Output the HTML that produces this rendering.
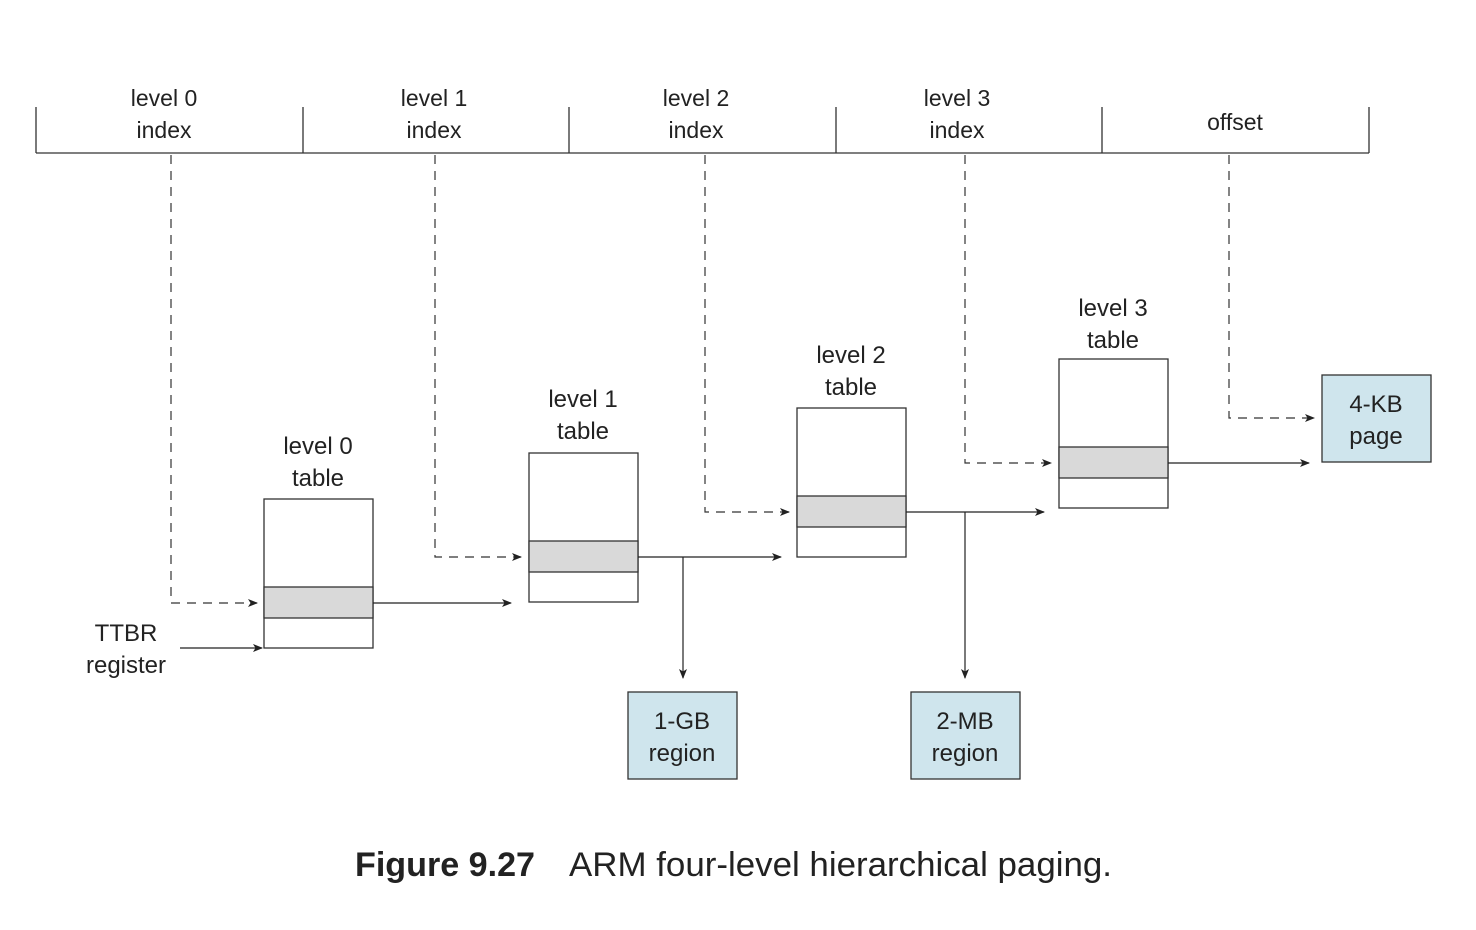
<!DOCTYPE html>
<html><head><meta charset="utf-8"><style>html,body{margin:0;padding:0;background:#fff}svg{display:block}</style></head>
<body>
<svg width="1476" height="930" viewBox="0 0 1476 930" xmlns="http://www.w3.org/2000/svg" font-family="Liberation Sans, sans-serif" fill="#222">
<defs>
<marker id="a" markerWidth="10" markerHeight="8" refX="9" refY="4" orient="auto" markerUnits="userSpaceOnUse">
<path d="M0,0 L10,4 L0,8 L2.5,4 z" fill="#222"/></marker>
</defs>
<!-- top bar -->
<g stroke="#333" stroke-width="1.3" fill="none">
<line x1="36" y1="153" x2="1369" y2="153"/>
<line x1="36" y1="107" x2="36" y2="153"/>
<line x1="303" y1="107" x2="303" y2="153"/>
<line x1="569" y1="107" x2="569" y2="153"/>
<line x1="836" y1="107" x2="836" y2="153"/>
<line x1="1102" y1="107" x2="1102" y2="153"/>
<line x1="1369" y1="107" x2="1369" y2="153"/>
</g>
<g font-size="23" text-anchor="middle">
<text x="164" y="106">level 0</text><text x="164" y="138">index</text>
<text x="434" y="106">level 1</text><text x="434" y="138">index</text>
<text x="696" y="106">level 2</text><text x="696" y="138">index</text>
<text x="957" y="106">level 3</text><text x="957" y="138">index</text>
<text x="1235" y="130">offset</text>
</g>
<!-- dashed -->
<g stroke="#333" stroke-width="1.2" fill="none" stroke-dasharray="9,7" marker-end="url(#a)">
<polyline points="171,155 171,603 257,603"/>
<polyline points="435,155 435,557 521,557"/>
<polyline points="705,155 705,512 789,512"/>
<polyline points="965,155 965,463 1051,463"/>
<polyline points="1229,155 1229,418 1314,418"/>
</g>
<!-- tables -->
<g stroke="#333" stroke-width="1.3">
<rect x="264" y="499" width="109" height="149" fill="#fff"/><rect x="264" y="587" width="109" height="31" fill="#d9d9d9"/>
<rect x="529" y="453" width="109" height="149" fill="#fff"/><rect x="529" y="541" width="109" height="31" fill="#d9d9d9"/>
<rect x="797" y="408" width="109" height="149" fill="#fff"/><rect x="797" y="496" width="109" height="31" fill="#d9d9d9"/>
<rect x="1059" y="359" width="109" height="149" fill="#fff"/><rect x="1059" y="447" width="109" height="31" fill="#d9d9d9"/>
<rect x="628" y="692" width="109" height="87" fill="#cfe5ed"/>
<rect x="911" y="692" width="109" height="87" fill="#cfe5ed"/>
<rect x="1322" y="375" width="109" height="87" fill="#cfe5ed"/>
</g>
<!-- solid arrows -->
<g stroke="#222" stroke-width="1.2" fill="none" marker-end="url(#a)">
<line x1="180" y1="648" x2="262" y2="648"/>
<line x1="373" y1="603" x2="511" y2="603"/>
<line x1="638" y1="557" x2="781" y2="557"/>
<line x1="906" y1="512" x2="1044" y2="512"/>
<line x1="1168" y1="463" x2="1309" y2="463"/>
<line x1="683" y1="557" x2="683" y2="678"/>
<line x1="965" y1="512" x2="965" y2="678"/>
</g>
<g font-size="24" text-anchor="middle">
<text x="318" y="454">level 0</text><text x="318" y="486">table</text>
<text x="583" y="407">level 1</text><text x="583" y="439">table</text>
<text x="851" y="363">level 2</text><text x="851" y="395">table</text>
<text x="1113" y="316">level 3</text><text x="1113" y="348">table</text>
<text x="126" y="641">TTBR</text><text x="126" y="673">register</text>
<text x="682" y="729">1-GB</text><text x="682" y="761">region</text>
<text x="965" y="729">2-MB</text><text x="965" y="761">region</text>
<text x="1376" y="412">4-KB</text><text x="1376" y="444">page</text>
</g>
<text x="355" y="876" font-size="34" font-weight="bold" textLength="180" lengthAdjust="spacingAndGlyphs">Figure 9.27</text>
<text x="569" y="876" font-size="34" textLength="543" lengthAdjust="spacingAndGlyphs">ARM four-level hierarchical paging.</text>
</svg>
</body></html>
